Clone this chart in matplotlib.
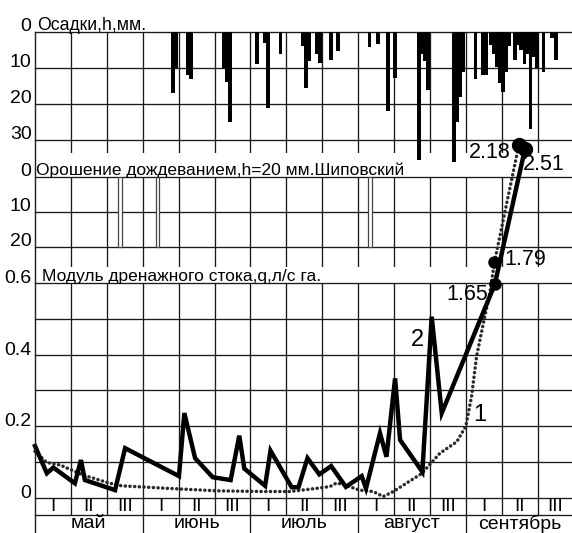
import matplotlib
matplotlib.use("Agg")
import matplotlib.pyplot as plt
import matplotlib.font_manager as fm
from matplotlib.lines import Line2D

names = {f.name for f in fm.fontManager.ttflist}
REG = 'Liberation Sans' if 'Liberation Sans' in names else 'DejaVu Sans'
plt.rcParams['font.family'] = [REG, 'DejaVu Sans']

# ---------------- data ----------------
months = ['май', 'июнь', 'июль', 'август', 'сентябрь']
dekads = ['I', 'II', 'III']

# precipitation (x in days from 1 May, 10 days per dekad), mm
precip_x = [38.4, 39.3, 42.6, 43.5, 52.6, 53.5, 54.3, 61.8, 64.1, 64.9, 68.4,
            74.7, 75.5, 76.3, 78.6, 79.4, 82.5, 84.4, 93.2, 95.5, 98.3, 100.3,
            107.0, 107.8, 108.6, 109.5, 116.7, 117.5, 118.4, 119.2, 122.7,
            124.8, 125.8, 127.0, 127.9, 128.7, 129.5, 130.4, 131.2, 132.2,
            133.7, 134.6, 135.4, 136.3, 137.2, 138.0, 138.9, 139.8, 141.6,
            144.0, 145.1]
precip_h = [17, 10, 12, 13, 10, 14, 25, 9, 3, 21, 6,
            4, 15.5, 8, 6, 8.6, 7.7, 5.2, 4.3, 3.3, 22, 12.8,
            35.5, 6, 8, 16, 36, 25, 18, 11, 13,
            12, 12, 3.5, 6, 9.6, 14.2, 16.7, 11, 4,
            7.7, 3.5, 5, 9, 6, 27, 7, 10, 11,
            1.7, 7.7]

# sprinkler irrigation, mm
irrig_x = [23.7, 34.1, 93.3]
irrig_h = [20, 20, 20]

# curve 2 (solid), drainage runoff module, l/s per ha (chart scale)
q2_x = [0, 3.3, 5.1, 11.1, 12.8, 13.9, 22.3, 25.1, 40.1, 41.6, 44.6, 49.5,
        54.5, 56.9, 58.3, 64.1, 65.6, 71.5, 73.4, 75.9, 79.2, 82.5, 86.6,
        91.0, 92.2, 96.1, 97.9, 100.3, 101.7, 107.9, 110.5, 113.3, 128.1, 136.5]
q2_y = [0.145, 0.069, 0.085, 0.041, 0.106, 0.05, 0.022, 0.139, 0.061, 0.237,
        0.111, 0.058, 0.05, 0.174, 0.082, 0.034, 0.132, 0.03, 0.03, 0.111,
        0.066, 0.089, 0.031, 0.061, 0.027, 0.181, 0.115, 0.334, 0.162, 0.073,
        0.506, 0.237, 0.597, 0.975]

# curve 1 (dotted)
q1_x = [0, 3.3, 7.0, 13.4, 20.9, 24.1, 36.7, 50.6, 64.2, 71.0, 78.5, 82.2,
        84.0, 86.4, 90.4, 94.2, 97.0, 100.2, 101.2, 107.7, 112.8, 117.5, 120.0,
        121.6, 123.0, 124.9, 126.7, 128.0, 134.8]
q1_y = [0.13, 0.099, 0.092, 0.064, 0.041, 0.034, 0.027, 0.02, 0.018, 0.018,
        0.027, 0.032, 0.042, 0.036, 0.022, 0.018, 0.004, 0.02, 0.027, 0.068,
        0.125, 0.157, 0.2, 0.283, 0.395, 0.488, 0.572, 0.659, 0.986]

# labelled points (x, y, label text)
pt_x = [128.1, 127.8, 134.8, 136.5]
pt_y = [0.597, 0.659, 0.986, 0.975]
pt_lab = ['1.65', '1.79', '2.18', '2.51']

precip_ticks = [0, 10, 20, 30]
irrig_ticks = [0, 10, 20]
q_ticks = [0.6, 0.4, 0.2, 0.0]
q_ticklabels = ['0.6', '0.4', '0.2', '0']

# ---------------- layout ----------------
FW, FH = 572, 533
fig = plt.figure(figsize=(FW / 100, FH / 100), dpi=100)


def fy(py):
    return 1 - py / FH


L = 35 / FW
W = 150 * 3.59 / FW
GC = '#1a1a1a'
GLW = 0.95

ax_p = fig.add_axes([L, fy(153), W, (153 - 32) / FH])
ax_i = fig.add_axes([L, fy(267), W, (267 - 177) / FH])
ax_q = fig.add_axes([L, 0, W, (FH - 283) / FH])
for a in (ax_p, ax_i, ax_q):
    a.set_axis_off()
    a.set_xlim(0, 150)
ax_p.set_ylim(33.6, 0)
ax_i.set_ylim(25.7, 0)
QB = -0.0977
ROW = -0.0474
ax_q.set_ylim(QB, 0.6)

grid_x = [10 * k for k in range(1, 15)]

# precipitation panel
for v in precip_ticks:
    ax_p.plot([0, 150], [v, v], color=GC, lw=GLW, clip_on=False)
ax_p.vlines(grid_x, 0, 33.6, color=GC, lw=GLW)
ax_p.bar(precip_x, precip_h, width=1.0, color='black', clip_on=False, zorder=3)

# irrigation panel
for v in irrig_ticks:
    ax_i.plot([0, 150], [v, v], color=GC, lw=GLW, clip_on=False)
ax_i.vlines(grid_x, 0, 25.7, color=GC, lw=GLW)
ax_i.bar(irrig_x, irrig_h, width=1.0, facecolor='white', edgecolor='#444444',
         lw=0.9, zorder=3)

# runoff panel
for k in range(7):
    ax_q.plot([0, 150], [k / 10, k / 10], color=GC, lw=GLW, clip_on=False)
ax_q.plot([0, 150], [ROW, ROW], color=GC, lw=GLW, clip_on=False)
ax_q.vlines(grid_x, ROW, 0.6, color=GC, lw=GLW)
ax_q.vlines([30, 60, 90, 120], QB, ROW, color=GC, lw=GLW)

ax_q.plot(q1_x, q1_y, color='#2a2a2a', lw=2.5, ls=(0, (0.05, 1.3)),
          dash_capstyle='round', clip_on=False, zorder=4)
ax_q.plot(q2_x, q2_y, color='black', lw=3.2, solid_joinstyle='miter',
          clip_on=False, zorder=5)
ax_q.plot(pt_x[:2], pt_y[:2], 'o', color='black', ms=8, clip_on=False, zorder=6)
ax_q.plot(pt_x[2:], pt_y[2:], 'o', color='black', ms=10, clip_on=False, zorder=6)

# left axis line
fig.add_artist(Line2D([L, L], [fy(32), 0], color=GC, lw=1.0))

# tick labels
TFS = 14
for v in precip_ticks:
    ax_p.annotate(str(v), (0, v), xytext=(-2.5, 1), textcoords='offset points',
                  ha='right', va='baseline', fontsize=TFS)
for v in irrig_ticks:
    ax_i.annotate(str(v), (0, v), xytext=(-2.5, 0.5), textcoords='offset points',
                  ha='right', va='baseline', fontsize=TFS)
for v, t in zip(q_ticks, q_ticklabels):
    ax_q.annotate(t, (0, v), xytext=(-2.5, 0), textcoords='offset points',
                  ha='right', va='baseline', fontsize=TFS)

# panel titles
ax_p.annotate('Осадки,h,мм.', (0.5, 0), xytext=(0, 1.5), textcoords='offset points',
              ha='left', va='baseline', fontsize=12.7)
ax_i.annotate('Орошение дождеванием,h=20 мм.Шиповский', (0.3, 0), xytext=(0, 1.5),
              textcoords='offset points', ha='left', va='baseline', fontsize=12.5)
ax_q.annotate('Модуль дренажного стока,q,л/с га.', (1.9, 0.6), xytext=(0, 1.5),
              textcoords='offset points', ha='left', va='baseline', fontsize=12.5)

# dekad and month labels
for m in range(5):
    for d in range(3):
        ax_q.text(m * 30 + d * 10 + 5, ROW / 2, dekads[d], ha='center', va='center',
                  fontsize=13.5)
    ax_q.text(m * 30 + 15, (ROW + QB) / 2, months[m], ha='center', va='center',
              fontsize=14)

# curve labels
ax_q.text(106.4, 0.441, '2', ha='center', va='center', fontsize=17)
ax_q.text(124.0, 0.232, '1', ha='center', va='center', fontsize=17)
lab_pos = [(120.3, 0.567), (136.5, 0.665), (126.7, 0.964), (141.8, 0.93)]
for (x, y), t in zip(lab_pos, pt_lab):
    ax_q.text(x, y, t, ha='center', va='center', fontsize=15.5, clip_on=False)

fig.savefig('out.png', dpi=100)
